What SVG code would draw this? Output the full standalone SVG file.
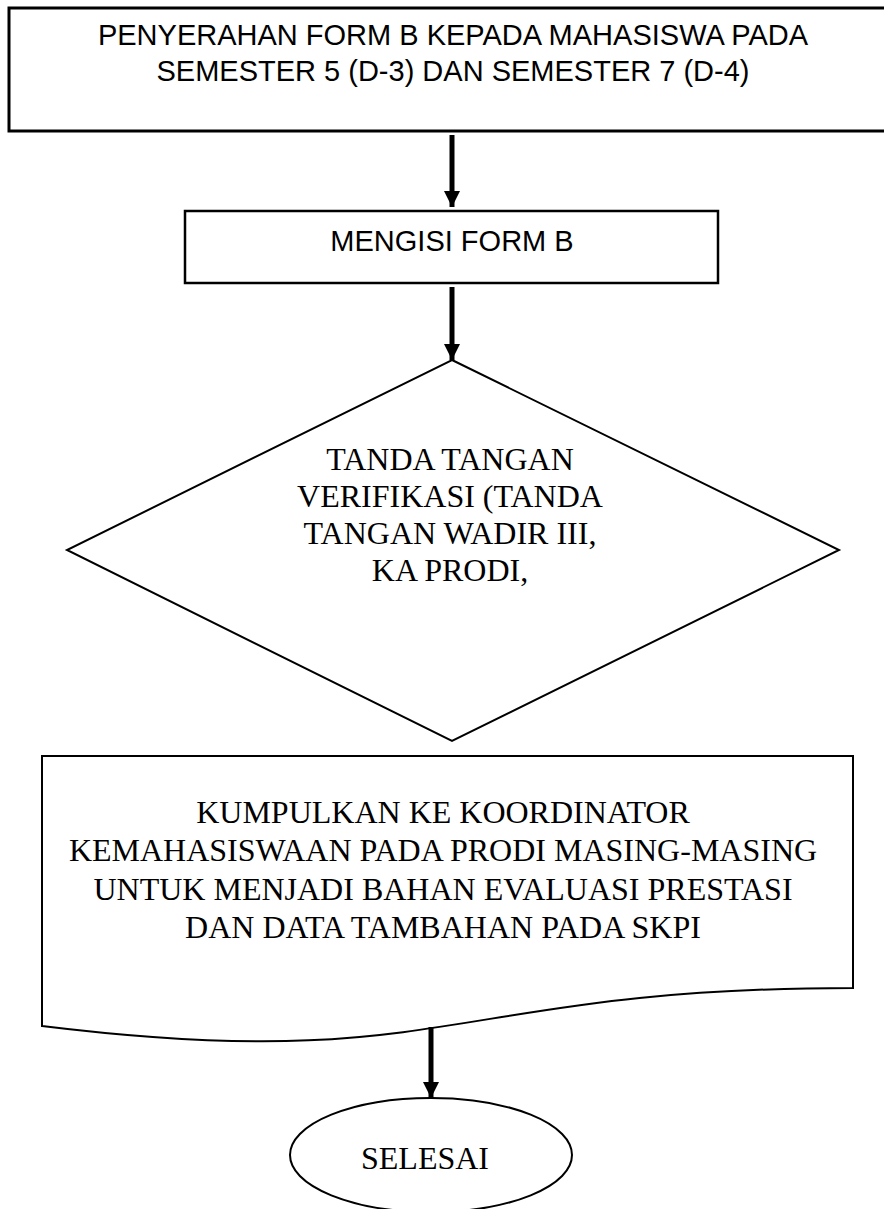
<svg xmlns="http://www.w3.org/2000/svg" width="884" height="1209" viewBox="0 0 884 1209">
<style>
.box{fill:#fff;stroke:#000}
.sans{font-family:"Liberation Sans",Arial,sans-serif;font-size:29px;fill:#000;text-anchor:middle}
.serif{font-family:"Liberation Serif","Times New Roman",serif;font-size:32px;fill:#000;text-anchor:middle}
.conn{stroke:#000;stroke-width:5;fill:none}
</style>
<defs>
<marker id="ah" markerUnits="userSpaceOnUse" markerWidth="18" markerHeight="16" refX="16" refY="8" orient="auto" viewBox="0 0 16 16">
<path d="M0,0 L16,8 L0,16 Z" fill="#000"/>
</marker>
</defs>
<rect width="884" height="1209" fill="#fff"/>
<g id="n1">
<rect class="box" x="9" y="8" width="890" height="123" stroke-width="3"/>
<text class="sans" x="453" y="45">PENYERAHAN FORM B KEPADA MAHASISWA PADA</text>
<text class="sans" x="453" y="81">SEMESTER 5 (D-3) DAN SEMESTER 7 (D-4)</text>
</g>
<g id="n2">
<rect class="box" x="185" y="211" width="533" height="72" stroke-width="2.5"/>
<text class="sans" x="452" y="251">MENGISI FORM B</text>
</g>
<g id="n3">
<polygon class="box" points="452,360 839,550 452,741 67,550" stroke-width="2"/>
<text class="serif" x="450" y="470">TANDA TANGAN</text>
<text class="serif" x="450" y="507">VERIFIKASI (TANDA</text>
<text class="serif" x="450" y="544">TANGAN WADIR III,</text>
<text class="serif" x="450" y="581">KA PRODI,</text>
</g>
<g id="n4">
<path class="box" d="M42,756 L853,756 L853,988 C447.5,988 447.5,1076 42,1026 Z" stroke-width="2"/>
<text class="serif" x="443" y="823">KUMPULKAN KE KOORDINATOR</text>
<text class="serif" x="443" y="861">KEMAHASISWAAN PADA PRODI MASING-MASING</text>
<text class="serif" x="443" y="900">UNTUK MENJADI BAHAN EVALUASI PRESTASI</text>
<text class="serif" x="443" y="938">DAN DATA TAMBAHAN PADA SKPI</text>
</g>
<g id="n5">
<ellipse class="box" cx="431" cy="1155" rx="141" ry="57" stroke-width="2"/>
<text class="serif" x="425" y="1169">SELESAI</text>
</g>
<g id="connectors">
<line class="conn" x1="452" y1="135" x2="452" y2="207" marker-end="url(#ah)"/>
<line class="conn" x1="452" y1="287" x2="452" y2="360" marker-end="url(#ah)"/>
<line class="conn" x1="431" y1="1027" x2="431" y2="1098" marker-end="url(#ah)"/>
</g>
</svg>
